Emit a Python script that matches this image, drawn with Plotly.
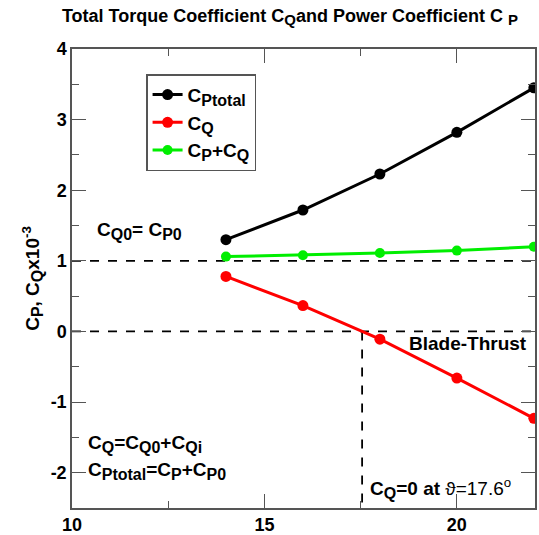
import plotly.graph_objects as go

theta = [14, 16, 18, 20, 22]
cp_total = [1.30, 1.72, 2.23, 2.82, 3.45]
cq = [0.78, 0.366, -0.11, -0.66, -1.23]
cp_plus_cq = [1.06, 1.08, 1.11, 1.145, 1.20]

x_ticks = [10, 15, 20]
x_tick_labels = ["10", "15", "20"]
y_ticks = [-2, -1, 0, 1, 2, 3, 4]
y_tick_labels = ["-2", "-1", "0", "1", "2", "3", "4"]

# zero crossing of CQ
zc = None
for i in range(len(cq) - 1):
    if cq[i] >= 0 > cq[i + 1]:
        zc = theta[i] + (theta[i + 1] - theta[i]) * cq[i] / (cq[i] - cq[i + 1])

FONT = "Liberation Sans, Arial, sans-serif"


def sub(t, px=16):
    return f"<sub><span style='font-size:{px}px'>{t}</span></sub>"


fig = go.Figure()
fig.add_trace(go.Scatter(x=theta, y=cp_total, mode="lines+markers", name="C" + sub("Ptotal"),
                         line=dict(color="black", width=3), marker=dict(size=11, color="black")))
fig.add_trace(go.Scatter(x=theta, y=cq, mode="lines+markers", name="C" + sub("Q"),
                         line=dict(color="#ff0000", width=3), marker=dict(size=11, color="#ff0000")))
fig.add_trace(go.Scatter(x=theta, y=cp_plus_cq, mode="lines+markers",
                         name="C" + sub("P") + "+C" + sub("Q"),
                         line=dict(color="#00ee00", width=3), marker=dict(size=10, color="#00ee00")))

dash = dict(color="black", width=1.8, dash="dash")
fig.add_shape(type="line", x0=10, x1=22, y0=1, y1=1, xref="x", yref="y", line=dash, layer="below")
fig.add_shape(type="line", x0=10, x1=22, y0=0, y1=0, xref="x", yref="y", line=dash, layer="below")
fig.add_shape(type="line", x0=zc, x1=zc, y0=0, y1=-2.5, xref="x", yref="y", line=dash, layer="below")

ann_font = dict(family=FONT, size=19, color="black", weight="bold")
fig.add_annotation(x=10.6, y=1.42, text="C" + sub("Q0") + "= C" + sub("P0"), xanchor="left",
                   showarrow=False, font=ann_font)
fig.add_annotation(x=20.3, y=-0.17, text="Blade-Thrust", showarrow=False, font=ann_font)
fig.add_annotation(x=11.9, y=-1.6, text="C" + sub("Q") + "=C" + sub("Q0") + "+C" + sub("Qi"),
                   showarrow=False, font=ann_font)
fig.add_annotation(x=12.2, y=-1.98, text="C" + sub("Ptotal") + "=C" + sub("P") + "+C" + sub("P0"),
                   showarrow=False, font=ann_font)
fig.add_annotation(x=19.57, y=-2.22,
                   text="C" + sub("Q") + "=0 at <span style='font-weight:normal'>\u03d1=17.6<sup>o</sup></span>",
                   showarrow=False, font=ann_font)

axis_common = dict(showgrid=False, zeroline=False, showline=True, linecolor="#555555", linewidth=1.5,
                   mirror="ticks", ticks="inside", tickcolor="#555555", tickwidth=1.2, ticklen=14,
                   automargin=False,
                   tickfont=dict(family=FONT, size=18, color="black", weight="bold"))

fig.update_layout(
    width=539, height=535,
    margin=dict(l=72, r=4, t=49, b=27),
    paper_bgcolor="white", plot_bgcolor="white",
    title=dict(text="Total Torque Coefficient C" + sub("Q", 15) + "and Power Coefficient C " + sub("P", 15),
               x=0.538, xanchor="center", y=0.983, yanchor="top",
               font=dict(family=FONT, size=18, color="black", weight="bold")),
    xaxis=dict(range=[10, 22.03], tickvals=x_ticks, ticktext=x_tick_labels,
               minor=dict(dtick=2.5, tick0=10, ticks="inside", ticklen=7, tickcolor="#555555"),
               **axis_common),
    yaxis=dict(range=[-2.5, 4], tickvals=y_ticks, ticktext=y_tick_labels,
               minor=dict(dtick=0.5, tick0=0, ticks="inside", ticklen=7, tickcolor="#555555"),
               title=dict(text="C" + sub("P") + ", C" + sub("Q") + "x10<sup>-3</sup>", standoff=6,
                          font=dict(family=FONT, size=19, color="black", weight="bold")),
               **axis_common),
    legend=dict(x=0.16, y=0.945, xanchor="left", yanchor="top", bgcolor="white",
                bordercolor="#555555", borderwidth=1.5,
                font=dict(family=FONT, size=19, color="black", weight="bold"),
                tracegroupgap=0, itemwidth=30),
    showlegend=True,
)

fig.write_html("out.html", config={"displayModeBar": False},
               post_script="document.body.style.margin='0';")
